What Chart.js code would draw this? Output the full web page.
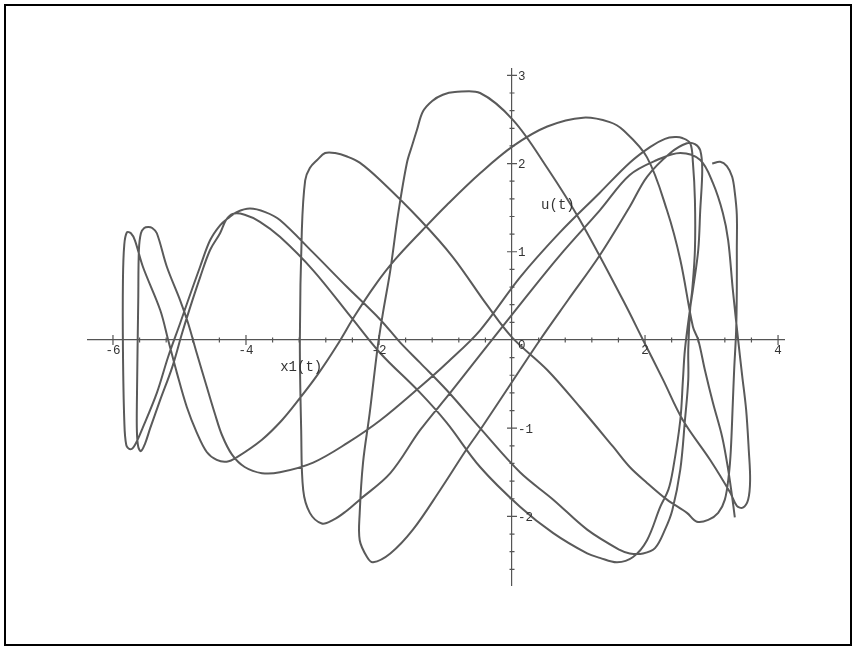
<!DOCTYPE html>
<html lang="en">
<head>
<meta charset="UTF-8">
<title>x1(t) against u(t)</title>
<script src="https://cdn.jsdelivr.net/npm/chart.js"></script>
<style>
  html, body { margin: 0; padding: 0; background: #fff; }
  #wrap { position: relative; width: 856px; height: 650px; }
  #frame { position: absolute; left: 4px; top: 4px; width: 844px; height: 638px; border: 2px solid #000; pointer-events: none; }
  #plot { position: absolute; left: 0; top: 0; }
</style>
</head>
<body>
<div id="wrap">
  <canvas id="plot" width="856" height="650"></canvas>
  <div id="frame"></div>
</div>
<script>
// axis ranges and ticks
const xRange = [-6.38, 4.1];
const uRange = [-2.78, 3.08];
const xMajor = [-6, -4, -2, 2, 4];
const xMajorLabels = ['-6', '-4', '-2', '2', '4'];
const uMajor = [-2, -1, 1, 2, 3];
const uMajorLabels = ['-2', '-1', '1', '2', '3'];
const xMinorStep = 0.4;
const uMinorStep = 0.2;

const strandF = [[3.01,2.00],[3.13,2.02],[3.23,1.97],[3.31,1.85],[3.35,1.67],[3.38,1.42],[3.38,1.02],[3.38,0.57],[3.37,0.11],[3.34,-0.34],[3.32,-0.71],[3.29,-1.25],[3.26,-1.53],[3.20,-1.81],[3.10,-1.96],[2.95,-2.04],[2.78,-2.06],[2.63,-1.96],[2.33,-1.81],[2.03,-1.62],[1.77,-1.44],[1.52,-1.21],[1.02,-0.76],[0.53,-0.34],[0.00,0.03],[-0.38,0.40],[-0.89,0.94],[-1.38,1.36],[-1.98,1.81],[-2.29,2.01],[-2.48,2.08],[-2.66,2.12],[-2.81,2.12],[-2.93,2.04],[-3.04,1.95],[-3.11,1.81]];
const strandL3 = [[-3.16,1.25],[-3.19,0.00],[-3.17,-1.02],[-3.14,-1.70],[-3.04,-1.96],[-2.86,-2.08],[-2.69,-2.04],[-2.51,-1.95],[-2.29,-1.81],[-1.83,-1.51],[-1.38,-1.02],[-0.93,-0.60],[-0.48,-0.17],[0.17,0.45],[0.72,0.96],[1.32,1.47],[1.77,1.87],[2.18,2.04],[2.53,2.12]];
const strandE = [[2.83,2.04],[3.02,1.78],[3.17,1.44],[3.25,1.13],[3.32,0.57],[3.40,0.00],[3.46,-0.40],[3.52,-0.79],[3.56,-1.25],[3.58,-1.59],[3.55,-1.81],[3.47,-1.90],[3.38,-1.88],[3.28,-1.73],[2.98,-1.36],[2.57,-0.91],[2.27,-0.45],[1.97,0.00],[1.67,0.45],[1.02,1.36],[0.53,1.95],[0.02,2.49],[-0.48,2.80],[-0.86,2.81]];
const strandL4 = [[-1.04,2.78],[-1.20,2.71],[-1.34,2.59],[-1.43,2.38],[-1.50,2.21],[-1.58,2.01],[-1.71,1.44],[-1.83,0.79],[-1.94,0.31],[-2.02,-0.08],[-2.14,-0.83],[-2.24,-1.39],[-2.29,-1.96],[-2.29,-2.27],[-2.18,-2.46],[-2.09,-2.52],[-1.83,-2.42],[-1.49,-2.15],[-1.08,-1.70],[-0.71,-1.27],[-0.48,-1.02],[-0.03,-0.51],[0.42,0.00],[0.84,0.45],[1.32,0.96],[1.77,1.51],[2.03,1.85],[2.38,2.12],[2.63,2.23]];
const strandD = [[2.75,2.22],[2.83,2.15],[2.86,1.93],[2.83,1.47],[2.80,1.02],[2.72,0.57],[2.68,0.37],[2.60,-0.11],[2.57,-0.45],[2.53,-0.91],[2.42,-1.47],[2.35,-1.70],[2.23,-1.89],[2.03,-2.27],[1.82,-2.46],[1.58,-2.52],[1.32,-2.47],[1.13,-2.42],[0.62,-2.19],[0.12,-1.89],[-0.48,-1.44],[-0.98,-0.94],[-1.38,-0.60],[-1.98,-0.15],[-2.39,0.23],[-2.99,0.79],[-3.49,1.17],[-3.79,1.34],[-4.02,1.42],[-4.20,1.43]];
const strandL2 = [[-4.30,1.36],[-4.39,1.21],[-4.54,1.02],[-4.69,0.71],[-4.84,0.37],[-4.96,0.08],[-5.11,-0.31],[-5.29,-0.68],[-5.44,-1.00],[-5.52,-1.18],[-5.58,-1.26],[-5.62,-1.21],[-5.64,-1.04],[-5.64,-0.68],[-5.62,0.45],[-5.61,1.02],[-5.58,1.21],[-5.53,1.27],[-5.47,1.28],[-5.41,1.27],[-5.34,1.21],[-5.19,0.83],[-4.99,0.45],[-4.87,0.19],[-4.74,-0.15],[-4.59,-0.53],[-4.47,-0.83],[-4.36,-1.08],[-4.21,-1.30],[-4.02,-1.44],[-3.76,-1.51],[-3.49,-1.50],[-2.99,-1.39],[-2.48,-1.17],[-1.98,-0.91],[-1.38,-0.53],[-0.98,-0.26],[-0.48,0.11],[0.12,0.71],[0.72,1.22],[1.32,1.67],[1.77,2.01],[2.08,2.19],[2.30,2.28],[2.45,2.30]];
const strandC = [[2.56,2.29],[2.68,2.23],[2.72,2.01],[2.75,1.59],[2.75,1.02],[2.71,0.57],[2.68,0.37],[2.65,-0.11],[2.65,-0.45],[2.60,-0.91],[2.53,-1.47],[2.41,-1.93],[2.30,-2.15],[2.15,-2.36],[1.97,-2.42],[1.77,-2.42],[1.62,-2.38],[1.13,-2.15],[0.62,-1.81],[0.12,-1.50],[-0.48,-1.00],[-0.98,-0.57],[-1.38,-0.26],[-1.68,-0.03],[-1.98,0.23],[-2.48,0.60],[-2.99,0.99],[-3.49,1.36],[-3.71,1.45],[-3.94,1.49]];
const strandL1 = [[-4.14,1.45],[-4.27,1.38],[-4.39,1.30],[-4.54,1.13],[-4.69,0.83],[-4.87,0.45],[-4.99,0.19],[-5.17,-0.19],[-5.34,-0.60],[-5.55,-0.99],[-5.67,-1.19],[-5.74,-1.24],[-5.80,-1.19],[-5.83,-0.91],[-5.85,-0.11],[-5.85,0.68],[-5.83,1.08],[-5.79,1.22],[-5.73,1.21],[-5.67,1.13],[-5.55,0.83],[-5.29,0.34],[-5.17,0.00],[-5.04,-0.37],[-4.89,-0.76],[-4.74,-1.05],[-4.59,-1.27],[-4.44,-1.36],[-4.29,-1.38],[-4.14,-1.33],[-3.76,-1.13],[-3.46,-0.91],[-3.19,-0.66],[-2.92,-0.39],[-2.63,-0.06],[-2.36,0.28],[-2.06,0.62],[-1.76,0.91],[-1.34,1.25],[-0.98,1.53],[-0.48,1.89],[0.02,2.20]];
const strandB = [[0.53,2.42],[1.07,2.52],[1.47,2.47],[1.67,2.38],[2.03,2.07],[2.33,1.47],[2.53,0.91],[2.72,0.15],[2.80,0.00],[2.90,-0.34],[3.02,-0.71],[3.16,-1.10],[3.25,-1.47],[3.31,-1.78],[3.35,-2.01]];

const trajectory = [].concat(strandF, strandL3, strandE, strandL4, strandD, strandL2, strandC, strandL1, strandB)
  .map(p => ({x: p[0], y: p[1]}));

const axisColor = '#555555';
const curveColor = '#5a5a5a';
const labelFont = '12.5px "Liberation Mono", "DejaVu Sans Mono", monospace';
const titleFont = '14px "Liberation Mono", "DejaVu Sans Mono", monospace';

// Maple style ticks (both sides of the axis) and labels
const axisDecor = {
    id: 'axisDecor',
    afterDraw(chart) {
        const {ctx, scales: {x, y}} = chart;
        const x0 = x.getPixelForValue(0);
        const y0 = y.getPixelForValue(0);
        ctx.save();
        ctx.strokeStyle = axisColor;
        ctx.lineWidth = 1.2;
        ctx.beginPath();
        for (let k = Math.ceil(xRange[0] / xMinorStep); k <= Math.floor(xRange[1] / xMinorStep); k++) {
            const v = k * xMinorStep;
            if (Math.abs(v) < 1e-9) continue;
            const major = xMajor.some(m => Math.abs(m - v) < 1e-6);
            const len = major ? 5 : 2.5;
            const px = x.getPixelForValue(v);
            ctx.moveTo(px, y0 - len);
            ctx.lineTo(px, y0 + len);
        }
        for (let k = Math.ceil(uRange[0] / uMinorStep); k <= Math.floor(uRange[1] / uMinorStep); k++) {
            const v = k * uMinorStep;
            if (Math.abs(v) < 1e-9) continue;
            const major = uMajor.some(m => Math.abs(m - v) < 1e-6);
            const len = major ? 5 : 2.5;
            const py = y.getPixelForValue(v);
            ctx.moveTo(x0 - len, py);
            ctx.lineTo(x0 + len, py);
        }
        ctx.stroke();

        ctx.fillStyle = '#333';
        ctx.font = labelFont;
        ctx.textAlign = 'center';
        ctx.textBaseline = 'top';
        xMajor.forEach((v, i) => ctx.fillText(xMajorLabels[i], x.getPixelForValue(v), y0 + 4));
        ctx.textAlign = 'left';
        ctx.fillText('0', x0 + 6, y0 - 1);
        ctx.textBaseline = 'middle';
        uMajor.forEach((v, i) => ctx.fillText(uMajorLabels[i], x0 + 6, y.getPixelForValue(v) + 1));

        ctx.font = titleFont;
        ctx.textAlign = 'center';
        ctx.fillText('x1(t)', x.getPixelForValue(-3.17), y.getPixelForValue(-0.31));
        ctx.fillText('u(t)', x.getPixelForValue(0.69), y.getPixelForValue(1.53));
        ctx.restore();
    }
};

const ctx = document.getElementById('plot').getContext('2d');
new Chart(ctx, {
    type: 'scatter',
    data: {
        datasets: [{
            data: trajectory,
            showLine: true,
            borderColor: curveColor,
            borderWidth: 2,
            pointRadius: 0,
            tension: 0.35,
            fill: false
        }]
    },
    options: {
        responsive: false,
        animation: false,
        layout: { padding: { left: 87.7, right: 71.3, top: 68.3, bottom: 64.8 } },
        plugins: {
            legend: { display: false },
            tooltip: { enabled: false }
        },
        scales: {
            x: {
                type: 'linear',
                min: xRange[0],
                max: xRange[1],
                position: { y: 0 },
                grid: { display: false },
                border: { display: true, color: axisColor, width: 1.2 },
                ticks: { display: false }
            },
            y: {
                type: 'linear',
                min: uRange[0],
                max: uRange[1],
                position: { x: 0 },
                grid: { display: false },
                border: { display: true, color: axisColor, width: 1.2 },
                ticks: { display: false }
            }
        }
    },
    plugins: [axisDecor]
});
</script>
</body>
</html>
